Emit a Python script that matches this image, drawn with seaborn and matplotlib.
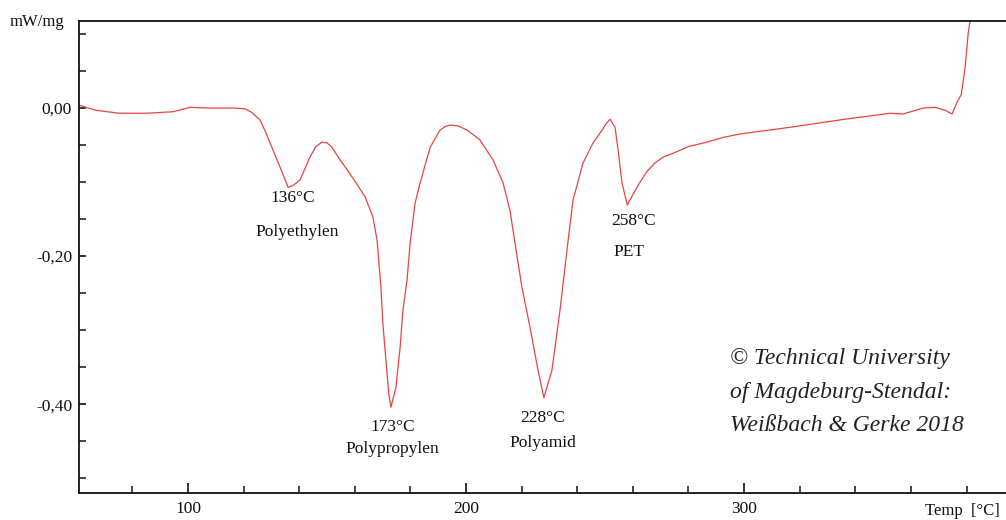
import matplotlib
matplotlib.use("Agg")
import matplotlib.pyplot as plt
import matplotlib.ticker as mticker
import pandas as pd
import seaborn as sns

# DSC heating curve of a mixed plastic sample
temperature = [60.8, 66.9, 75.2, 84.9, 94.6, 100.7, 107.9, 116.2, 120.5, 123.0,
               125.9, 128.0, 130.6, 133.8, 136.0, 138.0, 140.3, 143.9, 146.0, 148.2,
               150.0, 151.8, 154.7, 157.0, 159.4, 163.7, 166.5, 168.0, 169.4, 170.1,
               171.2, 172.2, 173.0, 174.8, 176.3, 177.3, 178.8, 179.9, 181.7, 183.5,
               187.1, 190.6, 192.5, 194.2, 197.1, 200.5, 205.0, 209.7, 213.3, 215.8,
               217.6, 220.1, 223.0, 225.9, 228.0, 230.9, 233.8, 236.3, 238.5, 242.1,
               245.7, 248.9, 250.4, 251.8, 253.6, 254.7, 256.1, 258.0, 260.3, 262.6,
               265.0, 268.0, 271.0, 274.5, 280.0, 286.7, 292.0, 298.6, 316.5, 334.5,
               352.5, 357.2, 364.4, 368.7, 372.3, 374.8, 376.6, 378.1, 379.5, 380.6,
               381.3, 381.7]
heat_flow = [0.004, -0.003, -0.007, -0.007, -0.005, 0.001, 0.000, 0.000, -0.001, -0.006,
             -0.016, -0.033, -0.057, -0.086, -0.107, -0.104, -0.097, -0.066, -0.052, -0.046,
             -0.047, -0.053, -0.070, -0.082, -0.095, -0.120, -0.147, -0.178, -0.242, -0.291,
             -0.341, -0.385, -0.404, -0.377, -0.323, -0.273, -0.232, -0.182, -0.128, -0.101,
             -0.053, -0.030, -0.025, -0.023, -0.024, -0.030, -0.043, -0.070, -0.101, -0.138,
             -0.182, -0.242, -0.296, -0.354, -0.391, -0.354, -0.273, -0.192, -0.124, -0.074,
             -0.047, -0.030, -0.021, -0.015, -0.026, -0.057, -0.101, -0.131, -0.115, -0.100,
             -0.086, -0.074, -0.066, -0.061, -0.052, -0.046, -0.040, -0.035, -0.026, -0.016,
             -0.007, -0.008, 0.000, 0.001, -0.003, -0.008, 0.008, 0.018, 0.055, 0.101,
             0.118, 0.140]

# Melting peaks
peak_temps = [136, 173, 228, 258]
peak_values = [-0.107, -0.404, -0.391, -0.131]
peak_names = ["Polyethylen", "Polypropylen", "Polyamid", "PET"]

y_major = [-0.40, -0.20, 0.00]
x_major = [100, 200, 300]

sns.set_style("ticks")
plt.rcParams["font.family"] = ["Liberation Serif", "DejaVu Serif"]

fig = plt.figure(figsize=(10.06, 5.2), dpi=100)
ax = fig.add_axes([0.0785, 0.0519, 0.9215, 0.9077])

df = pd.DataFrame({"T": temperature, "q": heat_flow})
sns.lineplot(data=df, x="T", y="q", ax=ax, color="#e8443f", linewidth=0.9,
             sort=False, estimator=None)

ax.set_xlim(60.8, 394.2)
ax.set_ylim(-0.520, 0.1176)

ax.xaxis.set_major_locator(mticker.FixedLocator(x_major))
ax.xaxis.set_minor_locator(mticker.MultipleLocator(20))
ax.yaxis.set_major_locator(mticker.FixedLocator(y_major))
ax.yaxis.set_minor_locator(mticker.MultipleLocator(0.05))
ax.yaxis.set_major_formatter(mticker.FuncFormatter(
    lambda v, p: f"{v:.2f}".replace(".", ",").replace("-0,00", "0,00")))
ax.xaxis.set_major_formatter(mticker.FuncFormatter(lambda v, p: f"{v:.0f}"))

ax.tick_params(which="major", direction="in", length=7, width=1.2, labelsize=12.5,
               colors="#111111", pad=6)
ax.tick_params(which="minor", direction="in", length=5, width=1.2)
ax.tick_params(axis="y", which="major", length=5, pad=5)
ax.tick_params(axis="y", which="minor", length=5)

ax.spines["right"].set_visible(False)
for side in ["left", "bottom", "top"]:
    ax.spines[side].set_linewidth(1.3)
    ax.spines[side].set_color("#111111")

ax.set_xlabel("")
ax.set_ylabel("")

# Unit labels
fig.text(0.010, 0.958, "mW/mg", fontsize=12, ha="left", va="center", color="#111111")
fig.text(0.994, 0.017, "Temp  [°C]", fontsize=12, ha="right", va="center", color="#111111")

# Peak annotations: (dT, dv) offsets of the temperature and the polymer name from each peak
temp_offsets = [(1.8, -0.014), (0.7, -0.027), (-0.3, -0.028), (2.1, -0.022)]
name_offsets = [(3.2, -0.061), (0.4, -0.057), (-0.3, -0.061), (0.6, -0.064)]
for t, v, name, (tdx, tdy), (ndx, ndy) in zip(peak_temps, peak_values, peak_names,
                                              temp_offsets, name_offsets):
    ax.text(t + tdx, v + tdy, f"{t}°C", fontsize=12.5, ha="center", va="center",
            color="#111111")
    ax.text(t + ndx, v + ndy, name, fontsize=12.5, ha="center", va="center",
            color="#111111")

# Copyright note
copyright_lines = ["© Technical University", "of Magdeburg-Stendal:", "Weißbach & Gerke 2018"]
for i, line in enumerate(copyright_lines):
    fig.text(0.726, 0.3105 - i * 0.0645, line, fontsize=17, style="italic",
             ha="left", va="center", color="#222222")

fig.savefig("out.png", dpi=100)
